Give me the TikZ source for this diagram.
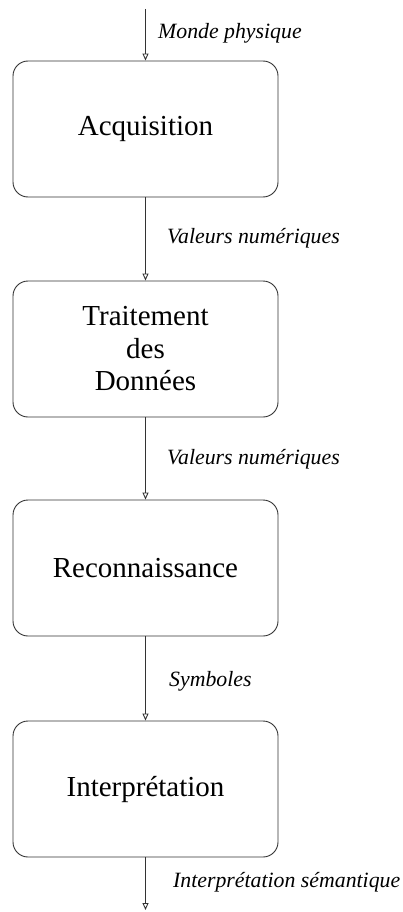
\documentclass[tikz,border=0pt]{standalone}
\usepackage{fontspec}
\setmainfont{Liberation Serif}
\usetikzlibrary{arrows.meta}
\begin{document}
\begin{tikzpicture}[x=1pt,y=-1pt,
  stage/.style={draw=black!80, line width=0.9pt, rounded corners=15pt,
    minimum width=265pt, minimum height=136pt, inner sep=0pt,
    align=center, font=\fontsize{29}{32.5}\selectfont},
  flow/.style={draw=black!80, line width=0.9pt,
    -{Triangle[open, length=7pt, width=6pt]}},
  lbl/.style={anchor=west, inner sep=0pt, font=\fontsize{21.8}{24}\selectfont\itshape}]
  \useasboundingbox (0,0) rectangle (402,912);

  \node[stage] (acq) at (145.5,129) {Acquisition};
  \node[stage] (trt) at (145.5,349) {Traitement\\des\\Données};
  \node[stage] (rec) at (145.5,568) {Reconnaissance};
  \node[stage] (itp) at (145.5,789) {Interprétation};

  \coordinate (in) at (145.5,9);
  \coordinate (out) at (145.5,910);

  \draw[flow] (in) -- (acq.north);
  \draw[flow] (acq.south) -- (trt.north);
  \draw[flow] (trt.south) -- (rec.north);
  \draw[flow] (rec.south) -- (itp.north);
  \draw[flow] (itp.south) -- (out);

  \node[lbl] (l0) at (158,33) {Monde physique};
  \node[lbl] (l1) at (167,238) {Valeurs numériques};
  \node[lbl] (l2) at (167,459) {Valeurs numériques};
  \node[lbl] (l3) at (169,681) {Symboles};
  \node[lbl] (l4) at (173,882) {Interprétation sémantique};
\end{tikzpicture}
\end{document}
